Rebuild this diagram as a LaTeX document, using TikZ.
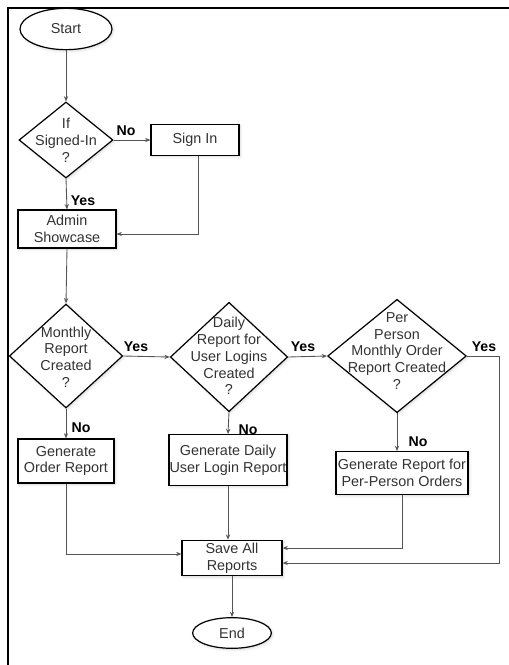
\documentclass[tikz,border=0pt]{standalone}
\usepackage{fontspec}
\setmainfont{Liberation Sans}
\usetikzlibrary{shapes.geometric,arrows.meta,calc,shadows.blur}

\definecolor{linkgray}{HTML}{555555}
\definecolor{txtgray}{HTML}{333333}

\tikzset{
  shapeline/.style={draw=black, line width=0.9pt, fill=white,
    blur shadow={shadow xshift=0.9pt, shadow yshift=-0.9pt,
                 shadow blur steps=4, shadow opacity=18}},
  terminal/.style={shapeline, ellipse, inner sep=0pt},
  procbox/.style={shapeline, rectangle, inner sep=0pt},
  decision/.style={shapeline, diamond, inner sep=0pt},
  body/.style={text=txtgray, align=center, font=\fontsize{10.8}{12.6}\selectfont},
  answer/.style={font=\bfseries\fontsize{10.6}{12}\selectfont, text=black},
  link/.style={draw=linkgray, line width=0.65pt,
    -{Stealth[length=4pt,width=3.2pt]}},
}

\begin{document}
\begin{tikzpicture}[x=0.75pt, y=-0.75pt]
  \useasboundingbox (0,0) rectangle (509,665);

  % frame (top and left edges)
  \draw[line width=1.6pt, black] (8,665) -- (8,8) -- (509,8);

  % terminals
  \node[terminal, minimum width=69pt, minimum height=31pt] (start) at (66,29) {};
  \node[body] at (start) {Start};
  \node[terminal, minimum width=59pt, minimum height=23pt] (end) at (232,633) {};
  \node[body] at (end) {End};

  % decisions
  \node[decision, minimum width=70.5pt, minimum height=57pt] (signed) at (66,140) {};
  \node[body] at (signed) {If\\Signed-In\\?};

  \node[decision, minimum width=85pt, minimum height=78pt] (monthly) at (66,356) {};
  \node[body] at ($(monthly)+(0,1)$) {Monthly\\Report\\Created\\?};

  \node[decision, minimum width=88pt, minimum height=82pt] (daily) at (229,357) {};
  \node[body] at ($(daily)+(0,-1)$) {Daily\\Report for\\User Logins\\Created\\?};

  \node[decision, minimum width=104pt, minimum height=85pt] (perperson) at (397,356) {};
  \node[body] at ($(perperson)+(0,-5)$) {Per\\Person\\Monthly Order\\Report Created\\?};

  % process boxes
  \node[procbox, minimum width=66pt, minimum height=23pt] (signin) at (195,140) {};
  \node[body] at (signin) {Sign In};

  \node[procbox, minimum width=73.5pt, minimum height=28.5pt] (admin) at (67,229) {};
  \node[body] at (admin) {Admin\\Showcase};

  \node[procbox, minimum width=72pt, minimum height=33pt] (genorder) at (66,461) {};
  \node[body] at (genorder) {Generate\\Order Report};

  \node[procbox, minimum width=88.5pt, minimum height=38pt] (gendaily) at (228,460) {};
  \node[body] at (gendaily) {Generate Daily\\User Login Report};

  \node[procbox, minimum width=99pt, minimum height=32pt] (genper) at (402,473) {};
  \node[body] at (genper) {Generate Report for\\Per-Person Orders};

  \node[procbox, minimum width=75pt, minimum height=26.5pt] (save) at (232,558) {};
  \node[body] at (save) {Save All\\Reports};

  % connectors
  \draw[link] (start) -- (signed);
  \draw[link] (signed.east) -- (signin.west);
  \draw[link] (signed.south) -- (admin.north);
  \draw[link] ($(signin.south)+(3,0)$) |- ($(admin.east)+(0,5)$);
  \draw[link] (admin.south) -- (monthly.north);

  \draw[link] (monthly.east) -- (daily.west);
  \draw[link] (daily.east) -- (perperson.west);
  \coordinate (bend) at (499,356);
  \draw[link] (perperson.east) -- (bend) |- ($(save.east)+(0,5)$);

  \draw[link] (monthly.south) -- (genorder.north);
  \draw[link] (daily.south) -- (gendaily.north);
  \draw[link] (perperson.south) -- ($(genper.north)+(-5,0)$);

  \draw[link] (genorder.south) |- ($(save.west)+(0,-4)$);
  \draw[link] (gendaily.south) -- (gendaily.south |- save.north);
  \draw[link] (genper.south) |- ($(save.east)+(0,-10)$);
  \draw[link] (save.south) -- (end.north);

  % branch answers
  \node[answer] (n1) at (126,131) {No};
  \node[answer] (y1) at (83,201) {Yes};
  \node[answer] (y2) at (136,347) {Yes};
  \node[answer] (n2) at (81,428) {No};
  \node[answer] (y3) at (303,347) {Yes};
  \node[answer] (n3) at (248,430) {No};
  \node[answer] (y4) at (484,347) {Yes};
  \node[answer] (n4) at (418,442) {No};
\end{tikzpicture}
\end{document}
